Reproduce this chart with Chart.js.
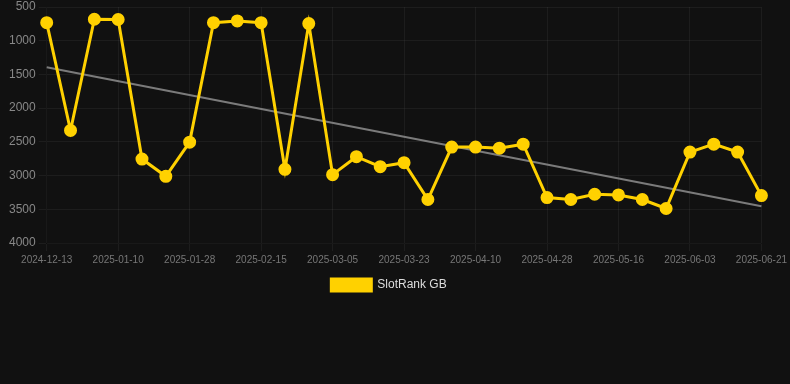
<!DOCTYPE html>
<html>
<head>
<meta charset="utf-8">
<script src="https://cdn.jsdelivr.net/npm/chart.js@4"></script>
<style>
    html, body { margin: 0; padding: 0; background: #111111; }
    #wrap { width: 790px; height: 303px; margin-top: -2px; }
</style>
</head>
<body>
<div id="wrap"><canvas id="rankChart"></canvas></div>
<script>
// Dates on the x axis (evenly spaced categories)
const dates = [
    '2024-12-13', '2024-12-22', '2025-01-01', '2025-01-10', '2025-01-16', '2025-01-22',
    '2025-01-28', '2025-02-03', '2025-02-09', '2025-02-15', '2025-02-21', '2025-02-27',
    '2025-03-05', '2025-03-11', '2025-03-17', '2025-03-23', '2025-03-29', '2025-04-04',
    '2025-04-10', '2025-04-16', '2025-04-22', '2025-04-28', '2025-05-04', '2025-05-10',
    '2025-05-16', '2025-05-22', '2025-05-28', '2025-06-03', '2025-06-09', '2025-06-15',
    '2025-06-21'
];

// SlotRank GB position per date
const rankGB = [
    732, 2331, 682, 685, 2755, 3011, 2504, 732, 707, 732, 2908,
    746, 2986, 2720, 2868, 2809, 3355, 2578, 2578, 2593, 2534,
    3326, 3355, 3277, 3287, 3355, 3488, 2652, 2534, 2652, 3297
];

// trend line ends
const trendStart = 1395;
const trendEnd = 3455;

const yTicks = { min: 500, max: 4000, step: 500 };

const trend = dates.map((d, i) => {
    if (i === 0) return trendStart;
    if (i === dates.length - 1) return trendEnd;
    return null;
});

const ctx = document.getElementById('rankChart').getContext('2d');
new Chart(ctx, {
    type: 'line',
    data: {
        labels: dates,
        datasets: [
            {
                label: 'SlotRank GB',
                data: rankGB,
                borderColor: '#FFD100',
                backgroundColor: '#FFD100',
                borderWidth: 3,
                pointRadius: 5,
                pointHoverRadius: 6,
                tension: 0
            },
            {
                label: 'Trend',
                data: trend,
                borderColor: 'rgba(135, 135, 135, 0.9)',
                backgroundColor: 'rgba(135, 135, 135, 0.9)',
                borderWidth: 2,
                pointRadius: 0,
                spanGaps: true
            }
        ]
    },
    options: {
        responsive: true,
        maintainAspectRatio: false,
        animation: false,
        layout: { autoPadding: false, padding: { left: 0, right: 12, top: 0 } },
        scales: {
            x: {
                grid: { color: 'rgba(255, 255, 255, 0.05)' },
                ticks: {
                    color: '#777',
                    font: { size: 10 },
                    maxRotation: 0,
                    autoSkip: true,
                    maxTicksLimit: 11
                }
            },
            y: {
                reverse: true,
                min: yTicks.min,
                max: yTicks.max,
                grid: { color: 'rgba(255, 255, 255, 0.05)' },
                // leave a bit more room left of the labels
                afterFit: scale => { scale.width += 6; },
                ticks: {
                    color: '#888',
                    font: { size: 12, lineHeight: 1 },
                    stepSize: yTicks.step,
                    callback: value => String(value)
                }
            }
        },
        plugins: {
            legend: {
                position: 'bottom',
                labels: {
                    color: '#ddd',
                    font: { size: 12 },
                    filter: item => item.text !== 'Trend'
                }
            },
            tooltip: { enabled: false }
        }
    }
});
</script>
</body>
</html>
